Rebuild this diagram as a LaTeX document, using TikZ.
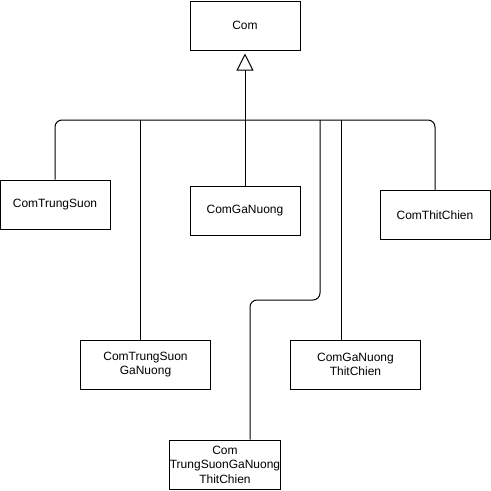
\documentclass[tikz,border=0pt]{standalone}
\usepackage{fontspec}
\setmainfont{Liberation Sans}
\usetikzlibrary{arrows.meta}
\begin{document}
\begin{tikzpicture}[x=1pt,y=-1pt,
  box/.style={draw,line width=1pt,minimum height=49pt,inner sep=0pt,align=center,
    font=\fontsize{12}{14.5}\selectfont},
  conn/.style={line width=1pt,rounded corners=7pt}]
\useasboundingbox (0,0) rectangle (491,491);
\node[box,minimum width=110pt] (com) at (245,25.5) {Com};
\node[box,minimum width=110pt] (ts) at (55,204.5) {ComTrungSuon};
\node[box,minimum width=110pt] (gn) at (245,211) {ComGaNuong};
\node[box,minimum width=110pt] (tc) at (435,215) {ComThitChien};
\node[box,minimum width=130pt] (tsg) at (145.5,364.5) {ComTrungSuon\\GaNuong};
\node[box,minimum width=130pt] (gntc) at (355.5,364.5) {ComGaNuong\\ThitChien};
\node[box,minimum width=110pt] (all) at (225,464.5) {Com\\TrungSuonGaNuong\\ThitChien};
\coordinate (bus) at (245,120);
\coordinate (b140) at (140,120);
\coordinate (b341) at (341,120);
\coordinate (b320) at (320,120);
\coordinate (k320) at (320,300);
\coordinate (k250) at (250,300);
\draw[conn,-{Triangle[open,length=17pt,width=17pt]},shorten >=3pt] (gn.north) -- (com.south);
\draw[conn] (ts.north) |- (bus);
\draw[conn] (tc.north) |- (bus);
\draw[conn] (tsg.north -| b140) -- (b140);
\draw[conn] (gntc.north -| b341) -- (b341);
\draw[conn] (all.north -| k250) -- (k250) -- (k320) -- (b320);
\end{tikzpicture}
\end{document}
